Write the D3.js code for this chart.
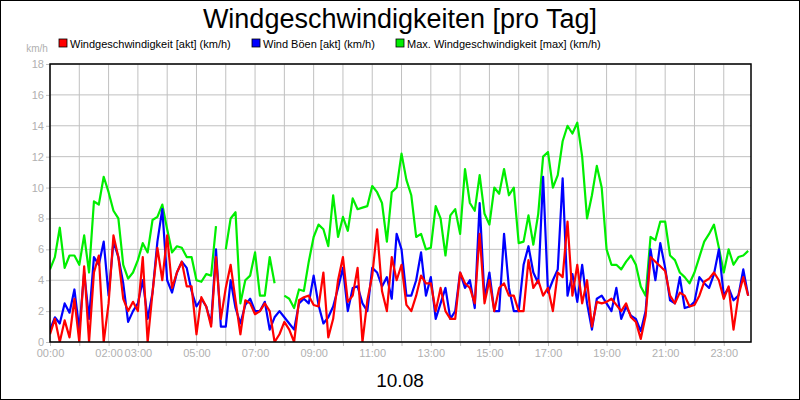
<!DOCTYPE html>
<html><head><meta charset="utf-8">
<script src="https://cdn.jsdelivr.net/npm/d3@7"></script>
<style>body{margin:0;background:#fff}svg{display:block;font-family:"Liberation Sans",Arial,sans-serif}</style>
</head><body><svg id="c" width="800" height="400"></svg>
<script>
// 10-minute samples, index k -> k*10 minutes
const maxWind = [4.7,5.5,7.4,4.8,5.6,5.6,5.0,6.9,4.5,9.1,8.9,10.7,9.7,8.5,8.0,5.0,4.1,4.5,5.3,6.4,5.8,7.9,8.1,8.9,7.3,5.8,6.2,6.1,5.5,5.5,
4.0,3.9,4.4,4.3,7.5,null,6.0,8.0,8.4,2.5,4.0,4.3,5.8,3.0,3.0,5.5,3.8,null,3.0,2.8,2.2,3.4,3.3,5.2,6.8,7.6,7.3,6.2,9.5,6.8,
8.1,7.2,9.3,8.6,8.7,8.8,10.1,9.7,9.0,6.5,9.7,10.0,12.2,10.5,9.5,6.8,7.0,6.0,6.1,8.8,8.0,5.6,8.2,8.6,7.0,11.2,9.0,8.5,10.8,8.3,
7.6,10.0,9.6,11.2,9.5,10.0,6.4,6.5,8.2,6.3,8.3,12.0,12.3,10.0,10.8,13.0,14.0,13.5,14.2,12.0,8.0,9.5,11.4,10.0,6.0,5.0,5.0,4.7,5.2,5.6,
5.0,3.6,3.0,6.8,6.6,7.8,7.8,5.6,5.3,4.5,4.2,3.8,4.5,5.5,6.5,7.0,7.6,6.1,4.5,6.0,5.0,5.5,5.6,5.9];
const gusts = [0.8,1.6,1.2,2.5,1.9,3.4,0.8,4.5,1.5,5.5,5.0,6.5,3.0,6.5,5.5,3.8,1.3,2.0,2.5,4.0,1.5,3.2,6.5,8.6,4.0,3.2,4.5,5.2,4.8,3.3,
2.3,2.8,2.3,1.2,6.0,1.0,1.0,4.0,2.2,1.2,2.4,2.8,2.0,2.0,2.6,0.8,1.6,2.0,1.6,1.2,0.8,2.5,2.8,2.5,4.3,2.4,1.2,1.6,2.3,3.5,
4.8,2.0,3.5,3.6,2.5,2.0,4.8,4.5,3.6,4.2,2.8,7.0,6.0,3.0,3.0,4.0,5.8,3.0,4.2,1.5,2.5,3.5,1.5,2.0,4.5,3.5,4.0,2.2,9.0,2.8,
4.5,2.0,2.0,7.0,3.5,2.0,2.0,5.0,6.2,4.5,3.8,10.7,3.2,4.0,4.7,10.6,3.0,4.4,2.6,5.0,2.5,0.8,2.8,3.0,2.5,2.0,3.5,1.5,2.3,1.7,
1.5,0.7,2.0,6.0,4.0,6.4,4.8,2.7,2.5,4.2,2.2,2.3,2.6,4.2,3.8,3.5,4.4,6.0,3.0,3.5,2.7,3.0,4.7,3.0];
const speed = [0.5,1.5,0,1.4,0.3,2.8,0,4.9,0,4.5,5.6,0,2.5,6.9,5.5,2.8,2.0,2.6,2.0,5.5,0,3.2,6.1,4.0,6.9,3.5,4.5,5.2,3.6,3.6,
0.5,2.9,2.3,1.0,5.5,1.5,3.5,5.0,2.7,0.5,2.7,2.5,1.8,2.0,2.5,2.0,0,0.5,1.3,0.8,0,2.7,2.9,3.0,2.4,2.3,4.5,0.3,1.5,4.0,
5.5,2.6,3.0,4.8,0,2.7,4.3,7.3,3.3,2.0,5.5,4.0,5.0,2.4,2.0,3.0,4.3,3.8,3.8,2.0,3.5,2.0,1.5,1.5,4.5,3.8,3.5,2.5,7.0,2.5,
4.0,2.0,3.5,3.8,3.0,3.0,2.0,2.0,5.3,3.5,4.0,3.0,3.5,2.0,4.5,4.2,7.8,3.0,5.0,2.5,4.0,1.0,2.6,2.5,2.6,2.8,2.4,2.0,2.5,1.6,
1.3,0.2,1.7,5.5,5.2,4.9,4.6,3.0,2.5,3.2,3.0,2.3,2.4,3.0,3.9,4.1,4.5,4.0,2.8,3.6,0.8,3.0,4.2,3.0];
const xLabelHours = [0,2,3,5,7,9,11,13,15,17,19,21,23];
const yTicks = [0,2,4,6,8,10,12,14,16,18];
const seriesNames = ["Windgeschwindigkeit [akt] (km/h)","Wind Böen [akt] (km/h)","Max. Windgeschwindigkeit [max] (km/h)"];
const seriesColors = ["#ff0000","#0000ff","#00ee00"];

const svg = d3.select("#c");
svg.append("rect").attr("x",0.5).attr("y",0.5).attr("width",799).attr("height",399).attr("fill","#fff").attr("stroke","#000");
const L=50,R=751,T=64,B=342;
const x = d3.scaleLinear().domain([0,23.93]).range([L,R]);
const y = d3.scaleLinear().domain([0,18]).range([B,T]);
const g = svg.append("g");
// grid
g.selectAll(".hg").data(yTicks).join("line").attr("x1",L).attr("x2",R).attr("y1",d=>y(d)).attr("y2",d=>y(d)).attr("stroke","#c0c0c0");
g.selectAll(".vg").data(d3.range(0,24)).join("line").attr("x1",d=>x(d)).attr("x2",d=>x(d)).attr("y1",T).attr("y2",B).attr("stroke","#c0c0c0");
// axes
const ya = svg.append("g").attr("transform",`translate(${L},0)`).call(d3.axisLeft(y).tickValues(yTicks).tickSize(4).tickPadding(2));
ya.select(".domain").remove();
ya.selectAll("line").attr("stroke","#c0c0c0");
ya.selectAll("text").attr("fill","#b0b0b0").attr("font-size",11).attr("font-family","Liberation Sans, Arial");
const xa = svg.append("g").attr("transform",`translate(0,${B})`).call(d3.axisBottom(x).tickValues(d3.range(0,24)).tickSize(4).tickPadding(3)
  .tickFormat(h=>xLabelHours.includes(h)?String(h).padStart(2,"0")+":00":""));
xa.select(".domain").remove();
xa.selectAll("line").attr("stroke","#c0c0c0");
xa.selectAll("text").attr("fill","#b0b0b0").attr("font-size",11).attr("font-family","Liberation Sans, Arial");
// lines
const line = d3.line().defined(d=>d!=null).x((d,i)=>x(i/6)).y(d=>y(d));
const clip = svg.append("clipPath").attr("id","cp").append("rect").attr("x",L).attr("y",T).attr("width",R-L).attr("height",B-T);
const lg = svg.append("g").attr("clip-path","url(#cp)");
[[maxWind,2],[gusts,1],[speed,0]].forEach(([data,ci])=>{
  lg.append("path").attr("d",line(data)).attr("fill","none").attr("stroke",seriesColors[ci]).attr("stroke-width",2.2).attr("stroke-linejoin","round");
});
svg.append("rect").attr("x",L).attr("y",T).attr("width",R-L).attr("height",B-T).attr("fill","none").attr("stroke","#000").attr("stroke-width",1.5);
// titles
svg.append("text").attr("x",400).attr("y",28).attr("text-anchor","middle").attr("font-size",27).text("Windgeschwindigkeiten [pro Tag]");
svg.append("text").attr("x",400).attr("y",387).attr("text-anchor","middle").attr("font-size",19).text("10.08");
svg.append("text").attr("x",37).attr("y",52).attr("text-anchor","middle").attr("font-size",10).attr("fill","#b0b0b0").text("km/h");
// legend
const lx=[59,252,396];
seriesNames.forEach((n,i)=>{
  svg.append("rect").attr("x",lx[i]).attr("y",39).attr("width",8).attr("height",8).attr("fill",seriesColors[i]).attr("stroke","#000").attr("stroke-width",0.8);
  svg.append("text").attr("x",lx[i]+11).attr("y",48).attr("font-size",11).text(n);
});
</script></body></html>
